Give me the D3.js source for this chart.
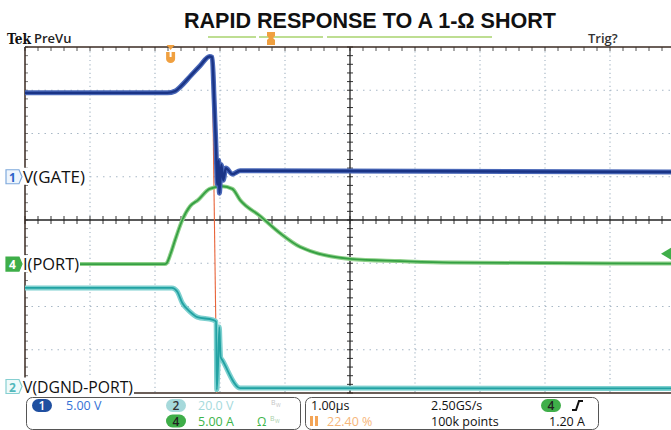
<!DOCTYPE html>
<html>
<head>
<meta charset="utf-8">
<script src="https://cdn.jsdelivr.net/npm/d3@7"></script>
<style>
  body { margin: 0; background: #fff; }
  text { font-family: "Open Sans", "DejaVu Sans", sans-serif; }
</style>
</head>
<body>
<div id="scope"></div>
<script>
// Time in µs from the trigger point (1.00 µs/div, trigger at 22.40 %).
var gateT = [-2.24, -0.05, 0.07, 0.15, 0.30, 0.45, 0.60, 0.64, 0.67, 0.70, 0.72, 0.74, 0.75, 0.78, 0.81, 0.85, 0.95, 1.07, 7.76];
var gateV = [9.7, 9.7, 9.9, 10.4, 11.6, 12.8, 13.9, 13.8, 8.9, 3.1, -0.9, 1.9, -1.9, 1.4, -0.4, 1.0, 0.3, 0.7, 0.55];

var portT = [-2.24, -0.09, -0.06, 0.00, 0.07, 0.18, 0.30, 0.42, 0.60, 0.79, 0.95, 1.07, 1.37, 1.68, 1.99, 2.76, 3.53, 4.30, 7.76];
var portA = [0.0, 0.0, 0.12, 1.2, 2.8, 5.1, 6.7, 7.4, 8.7, 9.0, 8.7, 7.4, 5.6, 3.6, 2.0, 0.6, 0.35, 0.18, 0.06];

var dgndT = [-2.24, 0.02, 0.10, 0.18, 0.30, 0.41, 0.65, 0.70, 0.71, 0.73, 0.75, 0.76, 0.77, 0.80, 1.07, 7.76];
var dgndV = [45.6, 45.6, 44.0, 38.6, 34.5, 32.1, 30.8, 30.0, -1.5, 10.0, 27.5, 20.0, 13.6, 12.0, -0.7, -0.9];

// reference (orange) trace, in graticule divisions
var refT = [0.64, 0.71];
var refDiv = [3.75, -4.0];

var channelNames = ['V(GATE)', 'I(PORT)', 'V(DGND-PORT)'];
var channelNums = ['1', '4', '2'];
var voltsPerDiv = [5, 5, 20];
var offsetDiv = [1.0, -1.02, -3.85];

var width = 671, height = 430;

var x = d3.scaleLinear().domain([-2.24, 7.76]).range([25, 675]);
var y = d3.scaleLinear().domain([-4, 4]).range([393, 47]);

var svg = d3.select('#scope').append('svg')
  .attr('width', width)
  .attr('height', height);

// Title
svg.append('text')
  .attr('x', 184).attr('y', 28)
  .attr('textLength', 372).attr('lengthAdjust', 'spacingAndGlyphs')
  .style('font-family', '"Liberation Sans", Arial, sans-serif')
  .style('font-weight', 'bold').style('font-size', '22px')
  .style('fill', '#111')
  .text('RAPID RESPONSE TO A 1-Ω SHORT');

// Header strip
svg.append('text').attr('x', 7).attr('y', 44)
  .attr('textLength', 24).attr('lengthAdjust', 'spacingAndGlyphs')
  .style('font-family', '"DejaVu Serif", serif').style('font-weight', 'bold')
  .style('font-size', '15px').style('fill', '#111')
  .text('Tek');
svg.append('text').attr('x', 34).attr('y', 43)
  .style('font-weight', '600').style('font-size', '13px').style('fill', '#222')
  .text('PreVu');
svg.append('text').attr('x', 588).attr('y', 43)
  .style('font-weight', '600').style('font-size', '13px').style('fill', '#333')
  .text('Trig?');

// record view bar
[[208, 256], [259, 323], [327, 492]].forEach(function (s) {
  svg.append('line').attr('x1', s[0]).attr('x2', s[1]).attr('y1', 37).attr('y2', 37)
    .style('stroke', '#a9d36e').style('stroke-width', 1.6);
});
svg.append('path')
  .attr('d', 'M267,32 h8 v4 l-2,2 l2,2 v5 h-8 v-5 l2,-2 l-2,-2 z')
  .style('fill', '#f0a040');

// Graticule
var g = svg.append('g');
var divX = d3.range(0, 11).map(function (k) { return -2.24 + k; });
var divY = d3.range(-4, 5);

g.selectAll('.vgrid').data(divX.filter(function (d, i) { return i > 0 && i !== 5; }))
  .enter().append('line')
  .attr('x1', x).attr('x2', x).attr('y1', y(4)).attr('y2', y(-4))
  .style('stroke', '#a8b8c6').style('stroke-width', 1.2)
  .style('stroke-dasharray', '1.2,3.1');

g.selectAll('.hgrid').data(divY.filter(function (d) { return d !== 0 && Math.abs(d) !== 4; }))
  .enter().append('line')
  .attr('x1', x(-2.24)).attr('x2', x(7.76)).attr('y1', y).attr('y2', y)
  .style('stroke', '#a8b8c6').style('stroke-width', 1.2)
  .style('stroke-dasharray', '1.5,5');

// minor ticks on center lines and borders
var minorX = d3.range(0, 51).map(function (k) { return -2.24 + k * 0.2; });
var minorY = d3.range(-20, 21).map(function (k) { return k * 0.2; });

g.selectAll('.tx').data(minorX).enter().append('line')
  .attr('x1', x).attr('x2', x).attr('y1', y(0) - 4).attr('y2', y(0) + 4)
  .style('stroke', '#333').style('stroke-width', 1);
g.selectAll('.ttop').data(minorX).enter().append('line')
  .attr('x1', x).attr('x2', x).attr('y1', y(4)).attr('y2', y(4) + 4)
  .style('stroke', '#555').style('stroke-width', 1);
g.selectAll('.ty').data(minorY).enter().append('line')
  .attr('x1', x(2.76) - 3).attr('x2', x(2.76) + 3).attr('y1', y).attr('y2', y)
  .style('stroke', '#333').style('stroke-width', 1);
g.selectAll('.tl').data(minorY).enter().append('line')
  .attr('x1', x(-2.24)).attr('x2', x(-2.24) + 3).attr('y1', y).attr('y2', y)
  .style('stroke', '#777').style('stroke-width', 1);

g.append('line').attr('x1', x(-2.24)).attr('x2', width).attr('y1', y(0)).attr('y2', y(0))
  .style('stroke', '#222').style('stroke-width', 1.3);
g.append('line').attr('x1', x(2.76)).attr('x2', x(2.76)).attr('y1', y(4)).attr('y2', y(-4))
  .style('stroke', '#222').style('stroke-width', 1.3);
g.append('line').attr('x1', x(-2.24)).attr('x2', width).attr('y1', y(4)).attr('y2', y(4))
  .style('stroke', '#3a2a22').style('stroke-width', 1.3);
g.append('line').attr('x1', x(-2.24)).attr('x2', width).attr('y1', y(-4)).attr('y2', y(-4))
  .style('stroke', '#3a2a22').style('stroke-width', 1.3);
g.append('line').attr('x1', x(-2.24)).attr('x2', x(-2.24)).attr('y1', y(4)).attr('y2', y(-4))
  .style('stroke', '#3a2a22').style('stroke-width', 1.5);

// Trigger position marker
svg.append('path')
  .attr('d', 'M' + (x(0) - 4) + ',45 h8 l-4,5 z')
  .style('fill', '#f0a040');
svg.append('path')
  .attr('d', 'M' + (x(0) - 4.5) + ',52 h3.5 v5 h2 v-5 h3.5 v7 a4.5,4 0 0 1 -9,0 z')
  .style('fill', '#f0a040');

// Waveforms
function makeLine(ch) {
  return d3.line()
    .curve(d3.curveMonotoneX)
    .x(function (d) { return x(d[0]); })
    .y(function (d) { return y(d[1] / voltsPerDiv[ch] + offsetDiv[ch]); });
}

var gateData = d3.zip(gateT, gateV);
var portData = d3.zip(portT, portA);
var dgndData = d3.zip(dgndT, dgndV);

svg.append('clipPath').attr('id', 'plotClip').append('rect')
  .attr('x', x(-2.24)).attr('y', y(4)).attr('width', width).attr('height', y(-4) - y(4));
var traces = svg.append('g').attr('clip-path', 'url(#plotClip)');

traces.append('path')
  .attr('d', d3.line().x(function (d) { return x(d[0]); }).y(function (d) { return y(d[1]); })(d3.zip(refT, refDiv)))
  .style('fill', 'none').style('stroke', '#e8643a').style('stroke-width', 1.1);

// V(DGND-PORT)
traces.append('path').attr('d', makeLine(2)(dgndData))
  .style('fill', 'none').style('stroke', '#7dd0cf').style('stroke-width', 5).style('stroke-linejoin', 'round');
traces.append('path').attr('d', makeLine(2)(dgndData))
  .style('fill', 'none').style('stroke', '#22a2a3').style('stroke-width', 1.8).style('stroke-linejoin', 'round');

// I(PORT)
traces.append('path').attr('d', makeLine(1)(portData))
  .style('fill', 'none').style('stroke', '#8fd08a').style('stroke-width', 4).style('stroke-linejoin', 'round');
traces.append('path').attr('d', makeLine(1)(portData))
  .style('fill', 'none').style('stroke', '#35a043').style('stroke-width', 1.8).style('stroke-linejoin', 'round');

// V(GATE)
traces.append('path').attr('d', makeLine(0)(gateData))
  .style('fill', 'none').style('stroke', '#4a68b8').style('stroke-width', 5).style('stroke-linejoin', 'round');
traces.append('path').attr('d', makeLine(0)(gateData))
  .style('fill', 'none').style('stroke', '#1a3486').style('stroke-width', 2.4).style('stroke-linejoin', 'round');

// Trigger level marker (1.20 A on ch 4)
var trigY = y(1.2 / voltsPerDiv[1] + offsetDiv[1]);
svg.append('path')
  .attr('d', 'M661,' + trigY + ' l10,-6 v12 z')
  .style('fill', '#3fae49');

// Channel labels
var badgeStyle = [
  { fill: '#eef5fc', stroke: '#7fa9dc', text: '#2c63c8' },
  { fill: '#3fae49', stroke: '#3fae49', text: '#fff' },
  { fill: '#effafa', stroke: '#86cfd1', text: '#52b8bb' }
];
channelNames.forEach(function (name, i) {
  var cy = y(offsetDiv[i]);
  var lg = svg.append('g');
  lg.append('rect').attr('x', 22).attr('y', cy - 9)
    .attr('width', i === 2 ? 112 : (i === 0 ? 64 : 58)).attr('height', 17)
    .style('fill', '#fff');
  lg.append('path')
    .attr('d', 'M6,' + (cy - 7) + ' h13 l3,7 l-3,7 h-13 z')
    .style('fill', badgeStyle[i].fill).style('stroke', badgeStyle[i].stroke).style('stroke-width', 1.2);
  lg.append('text').attr('x', 12.5).attr('y', cy + 5)
    .attr('text-anchor', 'middle')
    .style('font-size', '12px').style('font-weight', 'bold').style('fill', badgeStyle[i].text)
    .text(channelNums[i]);
  lg.append('text').attr('x', 23).attr('y', cy + 6)
    .attr('textLength', i === 2 ? 110 : (i === 0 ? 62 : 56))
    .attr('lengthAdjust', 'spacingAndGlyphs')
    .style('font-size', '16px').style('fill', '#111')
    .text(name);
});

// Status bar
var sb = svg.append('g');
sb.append('rect').attr('x', 26.5).attr('y', 397.5).attr('width', 274).attr('height', 32).attr('rx', 6)
  .style('fill', '#fff').style('stroke', '#555');
sb.append('rect').attr('x', 305.5).attr('y', 397.5).attr('width', 293).attr('height', 32).attr('rx', 6)
  .style('fill', '#fff').style('stroke', '#555');

function pill(cx, cy, fill, txt, col) {
  sb.append('rect').attr('x', cx - 10).attr('y', cy - 6.5).attr('width', 20).attr('height', 13).attr('rx', 6.5)
    .style('fill', fill);
  sb.append('text').attr('x', cx).attr('y', cy + 4.5).attr('text-anchor', 'middle')
    .style('font-size', '12px').style('font-weight', '600').style('fill', col).text(txt);
}
function label(xp, yp, txt, col, size) {
  return sb.append('text').attr('x', xp).attr('y', yp)
    .style('font-size', (size || 12.5) + 'px').style('fill', col).text(txt);
}

var row1 = 409.5, row2 = 425.5;
pill(42, 405.5, '#1f4fa0', '1', '#fff');
label(66, row1, '5.00 V', '#3471d6');
pill(176, 405.5, '#a6d9db', '2', '#333');
label(198, row1, '20.0 V', '#a6dadc');
label(271, 405, 'B', '#c4c4c4', 7);
label(276, 407, 'W', '#c4c4c4', 5);
pill(176, 421, '#3fae49', '4', '#222');
label(198, row2, '5.00 A', '#3cb44a');
label(257, row2, 'Ω', '#3cb44a', 12);
label(270, 421, 'B', '#a8cfa8', 7);
label(275, 423, 'W', '#a8cfa8', 5);

label(311, row1, '1.00µs', '#111');
label(431, row1, '2.50GS/s', '#111');
pill(551, 405.5, '#3fae49', '4', '#222');
sb.append('path').attr('d', 'M572,410 h4 l3,-9 h4')
  .style('fill', 'none').style('stroke', '#111').style('stroke-width', 2);
sb.append('rect').attr('x', 310).attr('y', 416).attr('width', 3).attr('height', 10).style('fill', '#f3a456');
sb.append('rect').attr('x', 315).attr('y', 416).attr('width', 3).attr('height', 10).style('fill', '#f3a456');
label(327, row2, '22.40 %', '#f6b67a');
label(431, row2, '100k points', '#111');
label(549, row2, '1.20 A', '#111');
</script>
</body>
</html>
